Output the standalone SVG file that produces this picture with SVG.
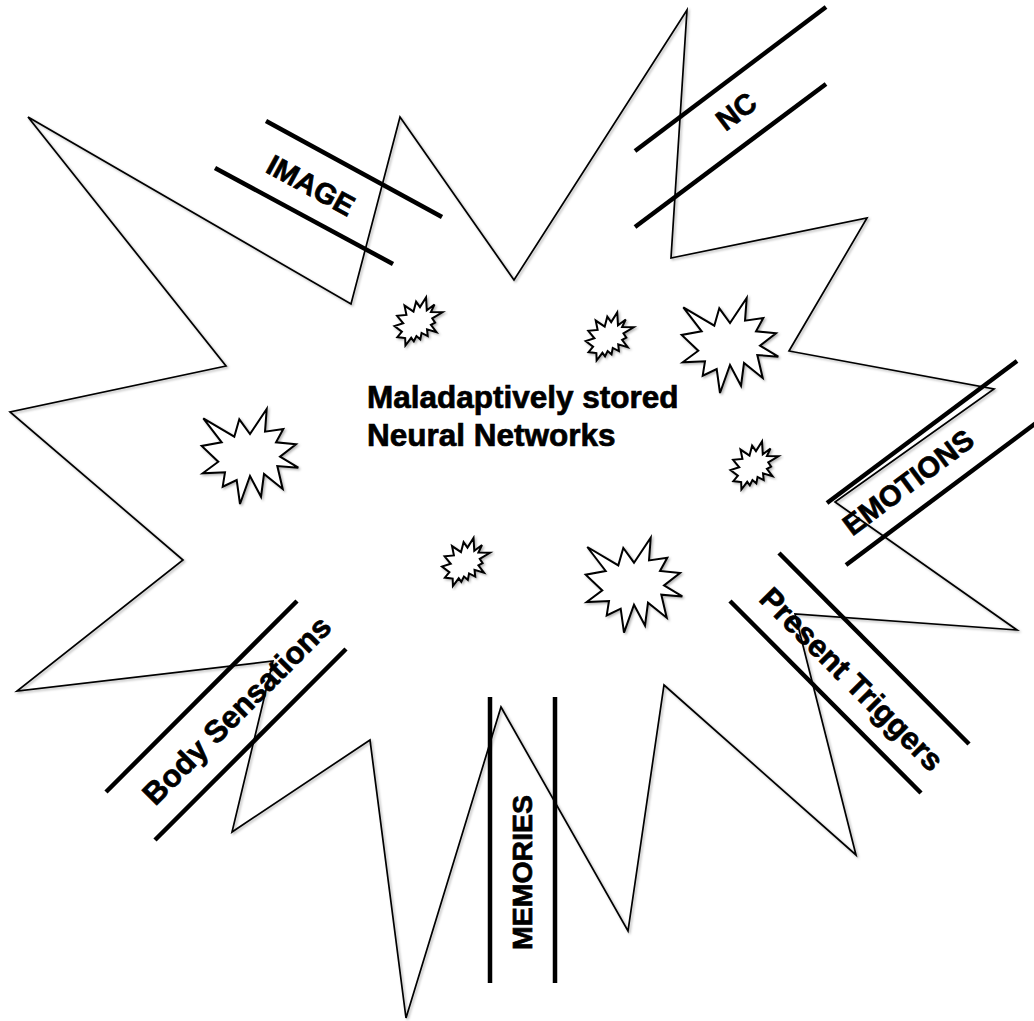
<svg xmlns="http://www.w3.org/2000/svg" width="1034" height="1021" viewBox="0 0 1034 1021">
  <defs>
    <filter id="shadow" x="-10%" y="-10%" width="120%" height="120%">
      <feDropShadow dx="1.5" dy="1.5" stdDeviation="1.2" flood-color="#000" flood-opacity="0.3"/>
    </filter>
    <path id="seal1" d="M1.6,9.3 L32.6,27.7 L37.6,10.3 L48.3,25 L65,0 L63.3,22.7 L81.6,20 L74.3,33.3 L94.3,35.3 L78.3,47.7 L96.6,58.7 L75.6,57 L81,80 L62.3,65 L59.3,87.7 L48.3,67 L38.3,95 L35,71 L21,77.7 L23.3,63.3 L1,64.3 L16.6,52.7 L0,37 L20,33.3 Z"/>
    <path id="seal2" d="M25.47,9.64 L21.6,4.19 L18.99,14.18 L10.01,8.06 L11.94,17.37 L2.61,18.38 L8.74,25.76 L0,28.61 L7.4,34.16 L2.85,39.61 L10.68,40.53 L10.93,48 L16.72,40.28 L19.33,43.8 L21.94,38.6 L25.81,41.88 L27.06,35.42 L33.21,38.6 L32.53,31.88 L41.95,34.74 L36.4,27.36 L40.6,25.09 L37.75,20.9 L48,14.77 L36.4,14.52 L40.01,7.05 L32.28,12.84 L31.53,0 Z"/>
  </defs>
  <style>
    .thin { fill: none; stroke: #000; stroke-width: 1.7; stroke-linejoin: miter; }
    .seal { fill: #fff; stroke: #000; stroke-width: 2; stroke-linejoin: miter; }
    .bar { stroke: #000; stroke-width: 4.5; stroke-linecap: butt; }
    .lbl { font-family: "Liberation Sans", Arial, sans-serif; font-weight: bold; fill: #000; stroke: #000; stroke-width: 0.7; text-anchor: middle; }
    .main { font-family: "Liberation Sans", Arial, sans-serif; font-weight: bold; fill: #000; stroke: #000; stroke-width: 0.7; font-size: 31.5px; }
  </style>
  <rect x="0" y="0" width="1034" height="1021" fill="#fff"/>

  <g id="burst" filter="url(#shadow)">
    <polygon class="thin" points="28,117 351,304 400,117 514,280 687,10 671,258 867,218 789,351 994,389 835,502 1017,630 795,614 856,855 664,685 628,931 501,707 406,1018 370,740 232,832 273,661 17,691 183,560 10,412 226,366"/>
  </g>

  <g id="star-large-1" filter="url(#shadow)"><use href="#seal1" class="seal" transform="translate(201.7,409)"/></g>
  <g id="star-large-2" filter="url(#shadow)"><use href="#seal1" class="seal" transform="translate(681.7,298)"/></g>
  <g id="star-large-3" filter="url(#shadow)"><use href="#seal1" class="seal" transform="translate(585.7,537.7)"/></g>

  <g id="star-small-1" filter="url(#shadow)"><use href="#seal2" class="seal" transform="translate(394.5,297.5)"/></g>
  <g id="star-small-2" filter="url(#shadow)"><use href="#seal2" class="seal" transform="translate(585.7,312.5)"/></g>
  <g id="star-small-3" filter="url(#shadow)"><use href="#seal2" class="seal" transform="translate(730.5,441.5)"/></g>
  <g id="star-small-4" filter="url(#shadow)"><use href="#seal2" class="seal" transform="translate(442,538)"/></g>

  <g id="center-title">
    <text class="main" x="367" y="408">Maladaptively stored</text>
    <text class="main" x="367" y="446">Neural Networks</text>
  </g>

  <g id="label-image">
    <line class="bar" x1="266" y1="121" x2="442" y2="217"/>
    <line class="bar" x1="215" y1="168" x2="393" y2="264"/>
    <text class="lbl" font-size="29" transform="translate(311,185) rotate(28.6)" y="10.4">IMAGE</text>
  </g>

  <g id="label-nc">
    <line class="bar" x1="635" y1="151" x2="826" y2="7"/>
    <line class="bar" x1="635" y1="227" x2="826" y2="84"/>
    <text class="lbl" font-size="29" transform="translate(736,111) rotate(-37)" y="10.4">NC</text>
  </g>

  <g id="label-emotions">
    <line class="bar" x1="827" y1="503" x2="1017" y2="361"/>
    <line class="bar" x1="846" y1="565" x2="1036" y2="423"/>
    <text class="lbl" font-size="29" transform="translate(908,482) rotate(-36.8)" y="10.4">EMOTIONS</text>
  </g>

  <g id="label-present-triggers">
    <line class="bar" x1="779" y1="553" x2="969" y2="744"/>
    <line class="bar" x1="730" y1="601" x2="921" y2="793"/>
    <text class="lbl" font-size="31" transform="translate(852,679) rotate(45)" y="11">Present Triggers</text>
  </g>

  <g id="label-memories">
    <line class="bar" x1="490" y1="697" x2="490" y2="983"/>
    <line class="bar" x1="555" y1="697" x2="555" y2="983"/>
    <text class="lbl" font-size="28.5" transform="translate(521.7,872.5) rotate(-90)" y="10.2">MEMORIES</text>
  </g>

  <g id="label-body-sensations">
    <line class="bar" x1="297" y1="601" x2="106" y2="792"/>
    <line class="bar" x1="346" y1="649" x2="155" y2="840"/>
    <text class="lbl" font-size="31" transform="translate(236.5,710) rotate(-45)" y="11">Body Sensations</text>
  </g>

  <g id="connectors"/>
</svg>
